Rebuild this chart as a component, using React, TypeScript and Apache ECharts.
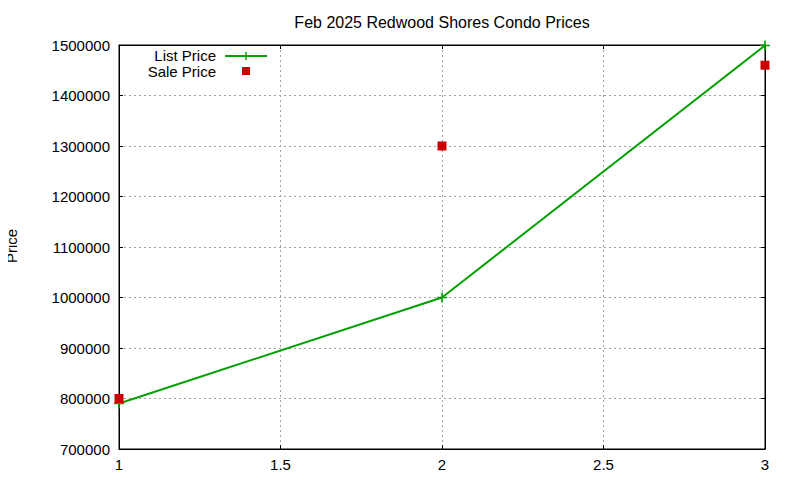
import React, { useEffect, useRef } from 'react';
import * as echarts from 'echarts';

// data
const listX = [1, 2, 3];
const listPrice = [790000, 1000000, 1499000];
const saleX = [1, 2, 3];
const salePrice = [800000, 1300000, 1460000];

const xTicks = [1, 1.5, 2, 2.5, 3];
const yMin = 700000;
const yMax = 1500000;
const yStep = 100000;

const GREEN = '#00a000';
const RED = '#cc0000';
const FONT = 'Liberation Sans, Arial, sans-serif';

// gnuplot style "+" marker as a filled cross
const PLUS = 'path://M4.2,0 H5.8 V4.2 H10 V5.8 H5.8 V10 H4.2 V5.8 H0 V4.2 H4.2 Z';

const App: React.FC = () => {
  const chartRef = useRef<HTMLDivElement>(null);

  useEffect(() => {
    if (!chartRef.current) return;
    const chart = echarts.init(chartRef.current, null, { renderer: 'svg' });

    const splitLine = {
      show: true,
      lineStyle: { color: '#a0a0a0', type: [2, 3] as any, width: 1 }
    };
    const tick = { show: true, inside: true, length: 4, lineStyle: { color: '#000' } };

    const option: any = {
      animation: false,
      backgroundColor: '#ffffff',
      title: {
        text: 'Feb 2025 Redwood Shores Condo Prices',
        left: 437,
        top: 9,
        textAlign: 'center',
        textStyle: { fontSize: 16, fontWeight: 'normal', color: '#000', fontFamily: FONT }
      },
      grid: {
        left: 119,
        right: 35,
        top: 45,
        bottom: 31,
        show: true,
        borderColor: '#000',
        borderWidth: 1,
        containLabel: false,
        outerBoundsMode: 'none'
      },
      xAxis: [
        {
          type: 'value',
          min: xTicks[0],
          max: xTicks[xTicks.length - 1],
          interval: 0.5,
          axisLine: { show: true, lineStyle: { color: '#000' } },
          axisTick: tick,
          axisLabel: { color: '#000', fontSize: 15, fontFamily: FONT, margin: 8 },
          splitLine
        },
        {
          type: 'value',
          position: 'top',
          min: xTicks[0],
          max: xTicks[xTicks.length - 1],
          interval: 0.5,
          axisLine: { show: true, lineStyle: { color: '#000' } },
          axisTick: tick,
          axisLabel: { show: false },
          splitLine: { show: false }
        }
      ],
      yAxis: [
        {
          type: 'value',
          min: yMin,
          max: yMax,
          interval: yStep,
          axisLine: { show: true, lineStyle: { color: '#000' } },
          axisTick: tick,
          axisLabel: {
            color: '#000',
            fontSize: 15,
            fontFamily: FONT,
            margin: 9,
            formatter: (v: number) => String(v)
          },
          splitLine
        },
        {
          type: 'value',
          position: 'right',
          min: yMin,
          max: yMax,
          interval: yStep,
          axisLine: { show: true, lineStyle: { color: '#000' } },
          axisTick: tick,
          axisLabel: { show: false },
          splitLine: { show: false }
        }
      ],
      graphic: [
        {
          // y axis title, rotated like gnuplot's ylabel
          type: 'text',
          x: 11,
          y: 246,
          rotation: Math.PI / 2,
          style: {
            text: 'Price',
            align: 'center',
            verticalAlign: 'middle',
            fontSize: 15,
            fontFamily: FONT,
            fill: '#000'
          }
        },
        {
          type: 'text',
          style: {
            x: 216,
            y: 55.5,
            text: 'List Price',
            align: 'right',
            verticalAlign: 'middle',
            fontSize: 15,
            fontFamily: FONT,
            fill: '#000'
          }
        },
        {
          type: 'text',
          style: {
            x: 216,
            y: 71.5,
            text: 'Sale Price',
            align: 'right',
            verticalAlign: 'middle',
            fontSize: 15,
            fontFamily: FONT,
            fill: '#000'
          }
        },
        {
          type: 'line',
          shape: { x1: 225, y1: 56, x2: 267, y2: 56 },
          style: { stroke: GREEN, lineWidth: 2 }
        },
        {
          type: 'line',
          shape: { x1: 246, y1: 52, x2: 246, y2: 60 },
          style: { stroke: GREEN, lineWidth: 1.5 }
        },
        {
          type: 'rect',
          shape: { x: 242, y: 67, width: 8, height: 8 },
          style: { fill: RED }
        }
      ],
      series: [
        {
          name: 'List Price',
          type: 'line',
          xAxisIndex: 0,
          yAxisIndex: 0,
          data: listX.map((x, i) => [x, listPrice[i]]),
          symbol: PLUS,
          symbolSize: 10,
          showAllSymbol: true,
          lineStyle: { color: GREEN, width: 2 },
          itemStyle: { color: GREEN },
          clip: false,
          z: 3
        },
        {
          name: 'Sale Price',
          type: 'scatter',
          xAxisIndex: 0,
          yAxisIndex: 0,
          data: saleX.map((x, i) => [x, salePrice[i]]),
          symbol: 'rect',
          symbolSize: 9,
          itemStyle: { color: RED, opacity: 1 },
          emphasis: { disabled: true },
          clip: false,
          z: 4
        }
      ]
    };

    chart.setOption(option);
    return () => {
      chart.dispose();
    };
  }, []);

  return <div ref={chartRef} style={{ width: 800, height: 480, margin: -8 }} />;
};

export default App;
